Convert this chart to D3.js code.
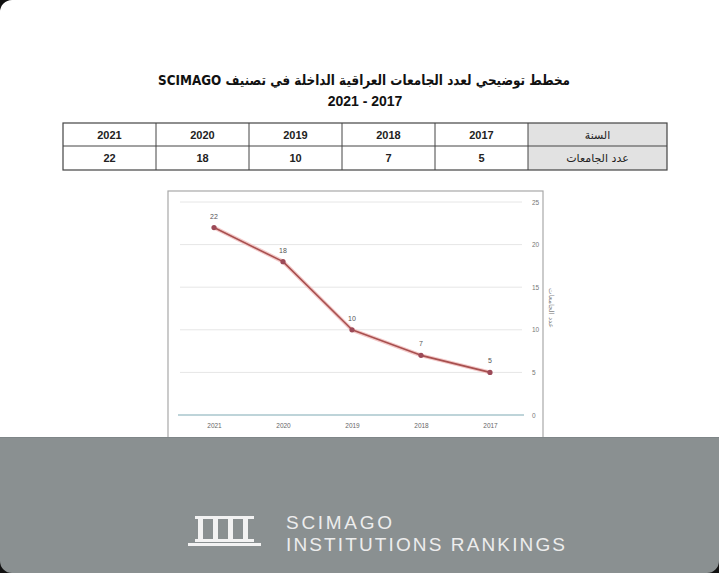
<!DOCTYPE html>
<html><head><meta charset="utf-8">
<script src="https://cdn.jsdelivr.net/npm/d3@7"></script>
<style>html,body{margin:0;padding:0;background:#fff;overflow:hidden}</style>
</head><body>
<svg id="c" width="719" height="573"></svg>
<script>
const years = ["2021","2020","2019","2018","2017"];
const counts = [22,18,10,7,5];
const yTicks = [0,5,10,15,20,25];
const titleLine1 = "مخطط توضيحي لعدد الجامعات العراقية الداخلة في تصنيف SCIMAGO";
const titleLine2 = "2021 - 2017";
const rowHeaderYear = "السنة";
const rowHeaderCount = "عدد الجامعات";
const axisTitle = "عدد الجامعات";
const footer1 = "SCIMAGO";
const footer2 = "INSTITUTIONS RANKINGS";

const svg = d3.select("#c");
const arFont = "'DejaVu Sans', 'Noto Sans', sans-serif";
const latin = "'Liberation Sans', Arial, sans-serif";

// Title
svg.append("text").attr("x",364).attr("y",85).attr("text-anchor","middle")
  .attr("direction","rtl").attr("font-family",arFont).attr("font-weight","bold")
  .attr("font-size",14).attr("textLength",412).attr("lengthAdjust","spacingAndGlyphs")
  .attr("fill","#111").text(titleLine1);
svg.append("text").attr("x",365).attr("y",106).attr("text-anchor","middle")
  .attr("font-family",latin).attr("font-weight","bold")
  .attr("font-size",14).attr("fill","#111").text(titleLine2);

// Table
const tx = d3.scaleBand().domain(years).range([63,528]);
const tTop = 123, tMid = 146, tBot = 170, tRight = 667;
const tg = svg.append("g");
tg.append("rect").attr("x",528).attr("y",tTop).attr("width",tRight-528).attr("height",tBot-tTop).attr("fill","#e2e2e2");
tg.append("rect").attr("x",63).attr("y",tTop).attr("width",tRight-63).attr("height",tBot-tTop)
  .attr("fill","none").attr("stroke","#444").attr("stroke-width",1.2);
tg.append("line").attr("x1",63).attr("x2",tRight).attr("y1",tMid).attr("y2",tMid).attr("stroke","#444");
tg.selectAll("line.sep").data(years).enter().append("line")
  .attr("x1",d=>tx(d)+tx.bandwidth()).attr("x2",d=>tx(d)+tx.bandwidth())
  .attr("y1",tTop).attr("y2",tBot).attr("stroke","#444");
tg.selectAll("text.yr").data(years).enter().append("text")
  .attr("x",d=>tx(d)+tx.bandwidth()/2).attr("y",139).attr("text-anchor","middle")
  .attr("font-family",latin).attr("font-weight","bold").attr("font-size",11).attr("fill","#222").text(d=>d);
tg.selectAll("text.ct").data(counts).enter().append("text")
  .attr("x",(d,i)=>tx(years[i])+tx.bandwidth()/2).attr("y",162).attr("text-anchor","middle")
  .attr("font-family",latin).attr("font-weight","bold").attr("font-size",11).attr("fill","#222").text(d=>d);
tg.append("text").attr("x",(528+tRight)/2).attr("y",139).attr("text-anchor","middle").attr("direction","rtl")
  .attr("font-family",arFont).attr("font-size",11).attr("fill","#222").text(rowHeaderYear);
tg.append("text").attr("x",(528+tRight)/2).attr("y",162).attr("text-anchor","middle").attr("direction","rtl")
  .attr("font-family",arFont).attr("font-size",11).attr("fill","#222").text(rowHeaderCount);

// Chart frame
svg.append("rect").attr("x",168).attr("y",191).attr("width",375).attr("height",260)
  .attr("fill","#fff").attr("stroke","#a8a8a8").attr("stroke-width",1.2);

const x = d3.scalePoint().domain(years).range([214,490]);
const y = d3.scaleLinear().domain([0,25]).range([415,202]);

const grid = svg.append("g");
grid.selectAll("line").data(yTicks.filter(t=>t>0)).enter().append("line")
  .attr("x1",180).attr("x2",522).attr("y1",d=>y(d)).attr("y2",d=>y(d))
  .attr("stroke","#e6e6e6").attr("stroke-width",1);
svg.append("line").attr("x1",178).attr("x2",524).attr("y1",y(0)).attr("y2",y(0))
  .attr("stroke","#a9c6cc").attr("stroke-width",1.5);

const axR = d3.axisRight(y).tickValues(yTicks).tickSize(0).tickPadding(0);
const ag = svg.append("g").attr("transform","translate(532,0)").call(axR);
ag.select(".domain").remove();
ag.selectAll("text").attr("font-family",latin).attr("font-size",6.5).attr("fill","#777");

const axB = d3.axisBottom(x).tickSize(0).tickPadding(0);
const bg = svg.append("g").attr("transform","translate(0,423)").call(axB);
bg.select(".domain").remove();
bg.selectAll("text").attr("font-family",latin).attr("font-size",6.5).attr("fill","#666");

svg.append("text").attr("transform","translate(549,308) rotate(90)").attr("text-anchor","middle")
  .attr("direction","rtl").attr("font-family",arFont).attr("font-size",7).attr("fill","#888").text(axisTitle);

const line = d3.line().x((d,i)=>x(years[i])).y(d=>y(d));
svg.append("path").datum(counts).attr("d",line).attr("fill","none")
  .attr("stroke","#f3c9c9").attr("stroke-width",4).attr("stroke-linejoin","round");
svg.append("path").datum(counts).attr("d",line).attr("fill","none")
  .attr("stroke","#a8504f").attr("stroke-width",1.6).attr("stroke-linejoin","round");
svg.selectAll("circle.pt").data(counts).enter().append("circle")
  .attr("cx",(d,i)=>x(years[i])).attr("cy",d=>y(d)).attr("r",2.6).attr("fill","#9c4a58");
svg.selectAll("text.lbl").data(counts).enter().append("text")
  .attr("x",(d,i)=>x(years[i])).attr("y",d=>y(d)-9).attr("text-anchor","middle")
  .attr("font-family",latin).attr("font-size",7).attr("fill","#555").text(d=>d);

// Footer band
svg.append("rect").attr("x",0).attr("y",437).attr("width",719).attr("height",136).attr("fill","#8a9091");
svg.append("line").attr("x1",0).attr("x2",719).attr("y1",437.5).attr("y2",437.5).attr("stroke","#7f8688");
// logo
const lg = svg.append("g").attr("fill","#f2f2f2");
lg.append("rect").attr("x",195).attr("y",516).attr("width",59).attr("height",3);
d3.range(4).forEach(i=>{
  lg.append("rect").attr("x",198+i*15).attr("y",519).attr("width",5).attr("height",20);
});
lg.append("rect").attr("x",195).attr("y",539).attr("width",59).attr("height",3);
lg.append("rect").attr("x",188).attr("y",543).attr("width",73).attr("height",3);

svg.append("text").attr("x",286).attr("y",529).attr("font-family",latin)
  .attr("font-size",19).attr("textLength",106).attr("lengthAdjust","spacing").attr("fill","#ededed").text(footer1);
svg.append("text").attr("x",286).attr("y",551).attr("font-family",latin)
  .attr("font-size",19).attr("textLength",279).attr("lengthAdjust","spacing").attr("fill","#ededed").text(footer2);

// black rounded corners
svg.append("path").attr("d","M0,0 H12 A12,12 0 0 0 0,12 Z").attr("fill","#111");
svg.append("path").attr("d","M0,573 V561 A12,12 0 0 0 12,573 Z").attr("fill","#111");
svg.append("path").attr("d","M719,573 V561 A12,12 0 0 1 707,573 Z").attr("fill","#111");
</script>
</body></html>
